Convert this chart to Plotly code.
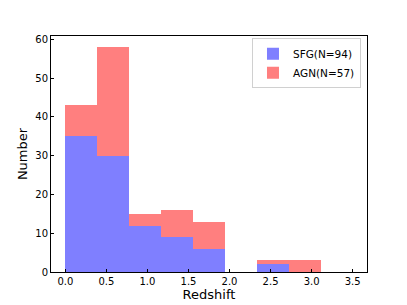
import numpy as np
import plotly.graph_objects as go

edges = np.linspace(0.0, 3.5, 10)
sfg_counts = [35, 30, 12, 9, 6, 0, 2, 0, 0]
agn_counts = [8, 28, 3, 7, 7, 0, 1, 3, 0]
x_ticks = [0.0, 0.5, 1.0, 1.5, 2.0, 2.5, 3.0, 3.5]
y_ticks = [0, 10, 20, 30, 40, 50, 60]

centers = (edges[:-1] + edges[1:]) / 2
width = edges[1] - edges[0]

fig = go.Figure()
fig.add_trace(go.Bar(x=centers, y=sfg_counts, width=width, name="SFG(N=94)",
                     marker=dict(color="rgba(0,0,255,0.5)", line=dict(width=0))))
fig.add_trace(go.Bar(x=centers, y=agn_counts, width=width, name="AGN(N=57)",
                     marker=dict(color="rgba(255,0,0,0.5)", line=dict(width=0))))

font = "DejaVu Sans"
fig.update_layout(
    width=399, height=297,
    margin=dict(l=43, r=40, t=28, b=33, autoexpand=False),
    barmode="stack", bargap=0,
    plot_bgcolor="white", paper_bgcolor="white",
    font=dict(family=font, color="black", size=10),
    legend=dict(x=0.981, y=0.99, xanchor="right", yanchor="top",
                bordercolor="#d0d0d0", borderwidth=1, bgcolor="rgba(255,255,255,0.8)",
                font=dict(size=10.5, family=font), tracegroupgap=0, itemwidth=30,
                traceorder="normal"),
    showlegend=True,
)
fig.update_xaxes(range=[-0.175, 3.675], tickvals=x_ticks,
                 ticktext=[f"{v:.1f}" for v in x_ticks],
                 ticks="inside", ticklen=3.5, tickwidth=0.8, tickcolor="black",
                 showline=True, linecolor="black", linewidth=0.8, mirror=True,
                 showgrid=False, zeroline=False, automargin=False,
                 title=dict(text="Redshift", font=dict(size=13, family=font), standoff=1),
                 tickfont=dict(size=10, family=font))
fig.update_yaxes(range=[0, 60.9], tickvals=y_ticks,
                 ticks="inside", ticklen=3.5, tickwidth=0.8, tickcolor="black",
                 showline=True, linecolor="black", linewidth=0.8, mirror=True,
                 showgrid=False, zeroline=False, automargin=False,
                 title=dict(text="Number", font=dict(size=13, family=font), standoff=4),
                 tickfont=dict(size=10, family=font))

fig.write_html("out.html")
